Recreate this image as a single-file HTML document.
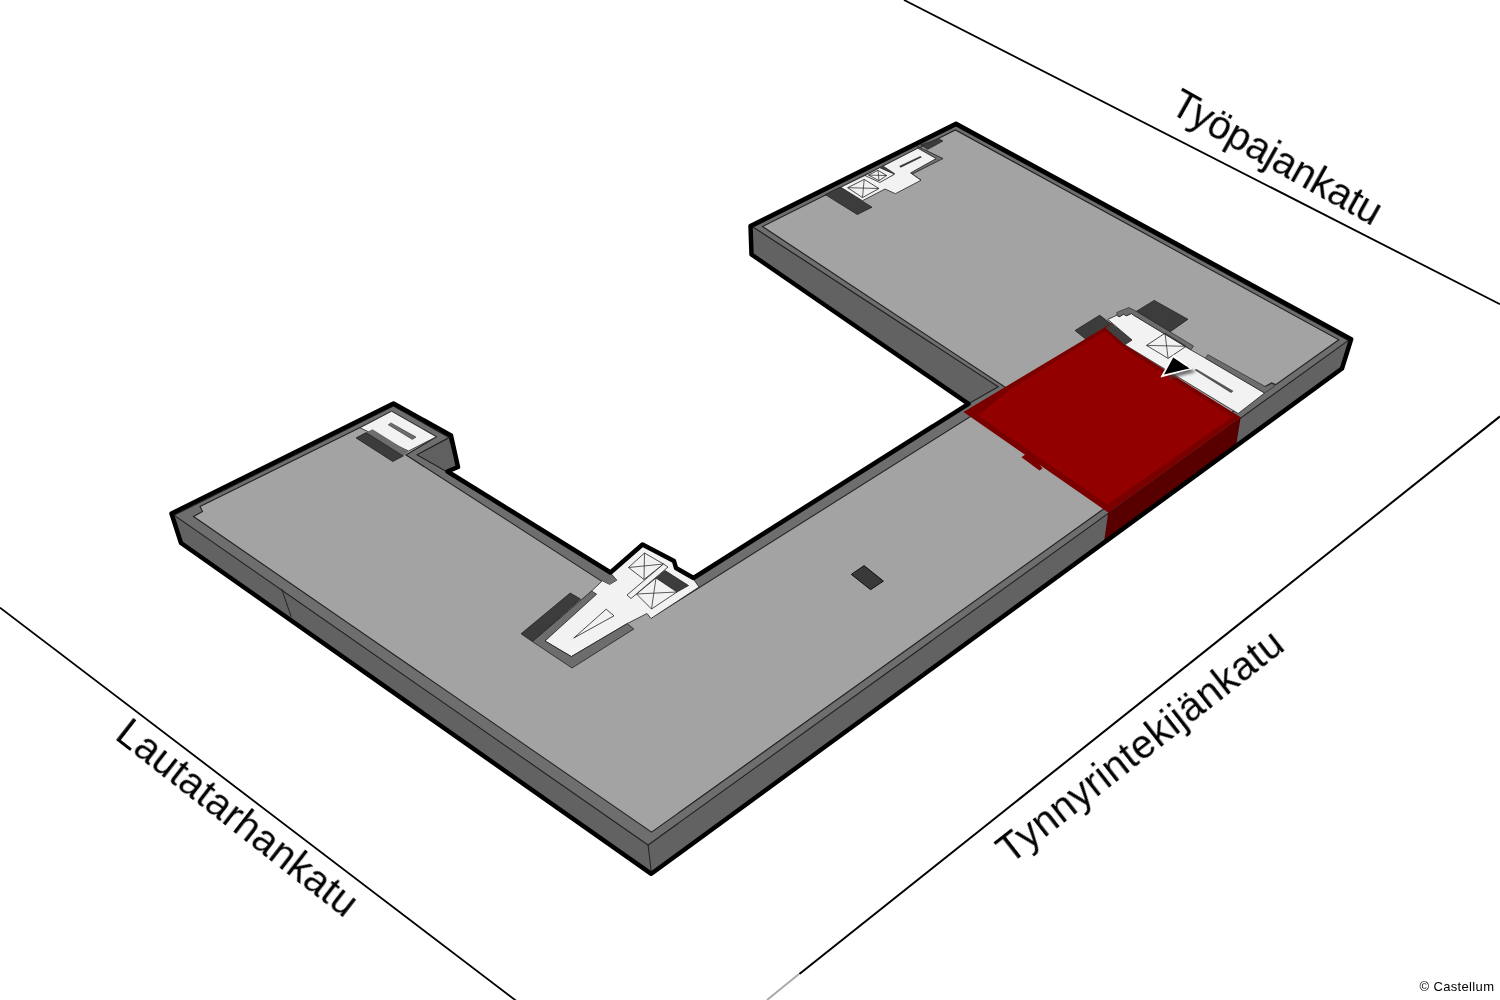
<!DOCTYPE html>
<html><head><meta charset="utf-8">
<style>
html,body{margin:0;padding:0;background:#fff;width:1500px;height:1000px;overflow:hidden}
svg{display:block}
text{font-family:"Liberation Sans",sans-serif;fill:#000}
</style></head>
<body>
<svg width="1500" height="1000" viewBox="0 0 1500 1000">
<rect width="1500" height="1000" fill="#fff"/>
<line x1="904" y1="0" x2="1500" y2="304.3" stroke="#000" stroke-width="1.8"/>
<line x1="799.4" y1="974" x2="1500" y2="416.4" stroke="#000" stroke-width="2"/>
<line x1="767" y1="1000" x2="799" y2="974" stroke="#aaa" stroke-width="2"/>
<line x1="0" y1="607.6" x2="517" y2="1001.4" stroke="#000" stroke-width="1.8"/>
<g opacity="0.995">
<text font-size="40" textLength="234.5" lengthAdjust="spacing" transform="translate(1168.1,111.7) rotate(29.3)">Työpajankatu</text>
<text font-size="40" textLength="351" lengthAdjust="spacing" transform="translate(1010,865) rotate(-38)">Tynnyrintekijänkatu</text>
<text font-size="40" textLength="293.5" lengthAdjust="spacing" transform="translate(113.5,738) rotate(38)">Lautatarhankatu</text>
</g>
<defs><filter id="nf" x="0" y="0" width="1" height="1"><feOffset dx="0" dy="0"/></filter></defs><g filter="url(#nf)"><text x="1419.5" y="991" font-size="13" textLength="74.5" lengthAdjust="spacing">© Castellum</text></g>

<polygon fill="#626262" points="171.5,513.5 393.5,403.5 451.0,435.5 458.0,467.0 447.5,471.5 610.5,572.5 642.5,544.5 674.0,561.0 676.0,568.0 693.5,578.0 968.5,403.8 751.5,254.5 750.5,226.0 956.0,123.7 1351.2,339.2 1342.0,368.5 651.3,873.8 181.0,543.0"/>
<polygon fill="#6e6e6e" stroke="#222" stroke-width="1.1" points="174.0,515.2 393.5,406.0 449.0,437.5 417.1,454.8 447.5,472.0 610.5,572.5 642.5,544.5 674.0,561.0 676.0,568.0 693.5,578.0 968.5,403.8 998.3,386.8 753.0,227.0 956.0,126.0 1348.4,340.4 648.1,845.0"/>
<polygon fill="#606060" stroke="#222" stroke-width="1" points="449.0,437.9 417.1,454.8 447.5,472.0 458.0,467.5"/>
<polygon fill="#a3a3a3" stroke="#222" stroke-width="1.1" points="193.5,516.5 202.5,511.5 200.0,506.5 359.7,427.8 391.6,411.3 436.3,436.8 406.0,455.0 602.3,581.6 655.0,615.4 1011.0,391.0 762.5,226.5 955.4,129.9 1338.8,339.8 1275.8,384.6 1271.6,382.8 1264.4,387.0 1150.0,475.8 651.6,832.2"/>
<!-- side face seams -->
<line x1="281.6" y1="588.8" x2="291.2" y2="616.8" stroke="#222" stroke-width="1"/>
<line x1="648.1" y1="845" x2="651.3" y2="872" stroke="#222" stroke-width="1"/>

<!-- left-end stair -->
<polygon fill="#f2f2f2" stroke="#222" stroke-width="0.8" points="360.1,427.8 391.6,411.3 436.3,436.8 408.5,451"/>
<polygon fill="#6d6d6d" points="366.1,432.6 372.5,429.3 408.5,451.8 403.3,455.9"/>
<polygon fill="#3c3c3c" stroke="#222" stroke-width="0.8" points="356,437.9 366.1,432.6 403.3,455.9 392.8,461.5"/>
<polygon fill="#6d6d6d" stroke="#333" stroke-width="0.6" points="388.3,424.8 390.9,422.9 416,437.1 412.3,439.4"/>

<!-- junction stair zone -->
<polygon fill="#3c3c3c" stroke="#222" stroke-width="0.8" points="521,633.8 570.2,593 580.5,599.1 532.4,641.6"/>
<polygon fill="#f2f2f2" stroke="#222" stroke-width="0.8" points="545,641 591.6,591 602.4,580.8 609.6,584.4 616.8,580.2 611,573.5 642.5,544.5 674,561 676,568 693,578.5 699,587 651,618.5 647,613.5 627.2,623.6 571.4,656.6"/>
<polygon fill="#6d6d6d" stroke="#222" stroke-width="0.8" points="532.4,641.6 591.6,591 596.6,594.2 545,641 571.4,656.6 627.2,623.6 633.8,629 572,668"/>
<polygon fill="#6d6d6d" points="600,570 616.8,580.2 609.6,584.4 600,579"/>
<polygon fill="none" stroke="#222" stroke-width="0.8" points="573.8,638 606.2,609.2 614,615.8"/>
<polygon fill="#3c3c3c" stroke="#222" stroke-width="0.8" points="656,578 665,570.5 688.5,585.5 677,592"/>
<polygon fill="#f2f2f2" stroke="#222" stroke-width="0.8" points="628.5,567.5 644.5,553 663.5,564 644,579.5"/>
<path d="M628.5,567.5 L663.5,564 M644.5,553 L644,579.5" stroke="#333" stroke-width="0.8"/>
<polygon fill="#f2f2f2" stroke="#222" stroke-width="0.8" points="636.5,594 656,578 677,592 651.5,609"/>
<path d="M636.5,594 L677,592 M656,578 L651.5,609" stroke="#333" stroke-width="0.8"/>
<polygon fill="#f2f2f2" stroke="#222" stroke-width="0.8" points="627,595 663.5,564 668,567 631,598.5"/>

<!-- top-right stair -->
<polygon fill="#3c3c3c" stroke="#222" stroke-width="0.8" points="825.2,194.6 840,187.2 872,207.2 857.3,214.5"/>
<polygon fill="#6d6d6d" stroke="#222" stroke-width="0.8" points="917.9,146.5 943,158.6 911.9,174.2 921,180.3 910.6,172.9"/>
<polygon fill="#f2f2f2" stroke="#222" stroke-width="0.8" points="840.8,187.2 865,175.5 879.8,167.7 882.4,166.4 917.9,148.2 936.1,158.6 910.6,172.9 921,180.3 895.4,193.7 885,189 862.5,200.7"/>
<polygon fill="#3c3c3c" points="879,168.5 883,165.5 895,173.5 891.5,176.5"/>
<polygon fill="none" stroke="#222" stroke-width="0.8" points="847.7,187.7 864.2,179.4 879,188.5 862.5,197.6"/>
<path d="M847.7,187.7 L879,188.5 M864.2,179.4 L862.5,197.6" stroke="#333" stroke-width="0.8"/>
<polygon fill="#f2f2f2" stroke="#222" stroke-width="0.8" points="865,175.5 879.8,167.7 894.5,174.2 879.8,182.5"/>
<polygon fill="none" stroke="#222" stroke-width="0.8" points="868.5,175.1 878,170.3 886.7,175.5 879,180.7"/>
<path d="M868.5,175.1 L886.7,175.5 M878,170.3 L879,180.7" stroke="#333" stroke-width="0.8"/>
<polygon fill="#3c3c3c" points="899.3,166 920.5,156 921.8,157.3 900.6,167.7"/>
<polygon fill="#3c3c3c" stroke="#222" stroke-width="0.6" points="920.5,144.8 939.7,138.9 943,141 927.5,149.6"/>

<!-- center dark rect -->
<polygon fill="#393939" stroke="#111" stroke-width="1" points="851.3,574.4 864.1,565.6 883.4,581.1 870.6,589.7"/>

<!-- right stair near red -->
<polygon fill="#3c3c3c" stroke="#222" stroke-width="0.8" points="1136.6,311.2 1154.2,300.4 1187.9,319.3 1169.9,331.9"/>
<polygon fill="#3c3c3c" stroke="#222" stroke-width="0.8" points="1075,330.5 1099.7,315.2 1132,340 1107,356"/>
<polygon fill="#f2f2f2" stroke="#222" stroke-width="0.8" points="1107.8,319.4 1116.9,315.2 1119,316.9 1123.9,314.1 1126,315.9 1131.6,313.5 1133.7,315.2 1191,350 1205.4,358.2 1264.6,393 1238.2,413.5 1124.8,344.8 1132,340"/>
<polygon fill="#6d6d6d" stroke="#222" stroke-width="0.6" points="1116.9,315.2 1116.9,312.4 1128.8,307.5 1135.8,311 1193.5,346 1191,349.8 1133.7,315.2 1131.6,313.5 1126,315.9 1123.9,314.1 1119,316.9"/>
<polygon fill="#6d6d6d" stroke="#222" stroke-width="0.6" points="1205.4,358.2 1207.8,354.6 1265.4,386.6 1271.8,383.4 1275,386 1264.6,393"/>
<polygon fill="none" stroke="#222" stroke-width="0.8" points="1146.5,345.4 1165,333.2 1186.1,346.3 1168.1,358.4"/>
<path d="M1146.5,345.4 L1186.1,346.3 M1165,333.2 L1168.1,358.4" stroke="#333" stroke-width="0.8"/>
<polygon fill="#555" points="1194.5,370 1196.5,369 1233.5,391 1231,393"/>

<!-- red -->
<polygon fill="#580000" points="1108.2,512.5 1240.7,417.2 1236.2,445 1104.2,541"/>
<polygon fill="#7a0000" points="963.5,412 1111.6,323.2 1124.8,344.8 1240.7,417.2 1108.2,512.5"/>
<polygon fill="#930000" points="978,415.5 1010,389.5 1105,331 1124,348.5 1232,417 1107.4,504.6"/>
<polygon fill="#7a0000" points="1021.5,457.3 1030,451 1042.5,468.5 1039.5,470.5"/>
<polygon fill="#404040" points="1105.6,328 1111.6,323.2 1132,340 1124.8,344.8"/>
<defs><filter id="sh" x="-50%" y="-50%" width="200%" height="200%"><feGaussianBlur stdDeviation="1.5"/></filter></defs>
<polygon fill="#444" opacity="0.75" filter="url(#sh)" points="1168,379 1178,362 1196,372"/>
<polygon fill="#fff" stroke="#fff" stroke-width="0.8" stroke-linejoin="round" points="1161,377 1173.5,355 1192,368.6"/>
<polygon fill="#000" points="1164,374.6 1173.2,357.5 1189.6,368.4"/>

<polygon fill="none" stroke="#000" stroke-width="4.5" stroke-linejoin="round" points="171.5,513.5 393.5,403.5 451.0,435.5 458.0,467.0 447.5,471.5 610.5,572.5 642.5,544.5 674.0,561.0 676.0,568.0 693.5,578.0 968.5,403.8 751.5,254.5 750.5,226.0 956.0,123.7 1351.2,339.2 1342.0,368.5 651.3,873.8 181.0,543.0"/>
</svg>
</body></html>
